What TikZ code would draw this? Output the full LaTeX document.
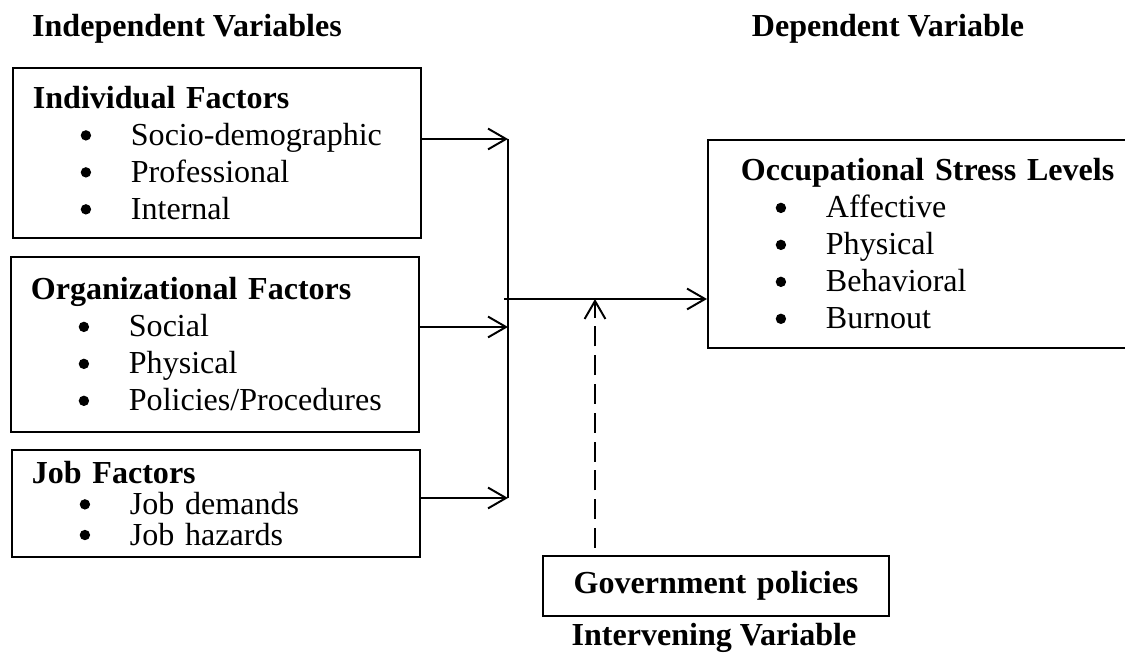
\documentclass[tikz,border=0pt]{standalone}
\usepackage{fontspec}
\setmainfont{Liberation Serif}
\usepackage{tikz}
\usetikzlibrary{arrows.meta, positioning, calc}
\newcommand{\dotmark}{\tikz[baseline=0pt]\fill (0,0.25cm) circle (0.13cm);}
\newcommand{\bul}[1]{\hspace*{1.325cm}\makebox[0pt]{\dotmark}\hspace*{1.125cm}#1}
\tikzstyle{factor} = [rectangle, draw=black, line width=1.3pt, anchor=north west, align=left, inner xsep=0.5cm, text width=9.2cm, font=\fontsize{22.8}{26.3}\selectfont]
\tikzstyle{heading} = [anchor=base, font=\fontsize{22.8}{26.3}\selectfont\bfseries]
\tikzstyle{line} = [line width=1.4pt]
\tikzstyle{arrow} = [line width=1.4pt, -{Straight Barb[length=0.45cm, width=0.52cm]}]

\begin{document}
\begin{tikzpicture}
        \useasboundingbox (0,0) rectangle (28.125,16.6);
        \node (indep) [heading] at (4.675,15.675) {Independent Variables};
        \node (dep) [heading] at (22.2,15.675) {Dependent Variable};
        \node (indiv) [factor, minimum height=4.25cm] at (0.3,14.925) {\textbf{Individual Factors}\\\bul{Socio-demographic}\\\bul{Professional}\\\bul{Internal}};
        \node (orgn) [factor, minimum height=4.375cm] at (0.25,10.2) {\textbf{Organizational Factors}\\\bul{Social}\\\bul{Physical}\\\bul{Policies/Procedures}};
        \node (job) [factor, minimum height=2.675cm] at (0.275,5.375) {\textbf{Job Factors}\\[-4.5pt]\bul{Job demands}\\[-4.5pt]\bul{Job hazards}};
        \node (stress) [factor, text width=10.2cm, minimum height=5.2cm] at (17.675,13.125) {\hspace*{0.325cm}\mbox{\textbf{Occupational Stress Levels}}\\\bul{Affective}\\\bul{Physical}\\\bul{Behavioral}\\\bul{Burnout}};
        \node (gov) [factor, anchor=north, align=center, text width=7.65cm, minimum height=1.5cm] at (17.9,2.725) {\textbf{Government policies}};
        \node (interv) [heading] at (17.85,0.475) {Intervening Variable};

        \coordinate (b1) at (12.7,13.125);
        \coordinate (b2) at (12.7,8.425);
        \coordinate (b3) at (12.7,4.15);
        \coordinate (hub) at (12.6,9.125);
        \coordinate (dash) at (14.875,2.9);

        \draw [line] (b1) -- (b3);
        \draw [arrow] (indiv.east |- b1) -- (b1);
        \draw [arrow] (orgn.east |- b2) -- (b2);
        \draw [arrow] (job.east |- b3) -- (b3);
        \draw [arrow] (hub) -- (stress.west |- hub);
        \draw [arrow, dash pattern=on 0.5cm off 0.22cm] (dash) -- (dash |- hub);
    \end{tikzpicture}
\end{document}
